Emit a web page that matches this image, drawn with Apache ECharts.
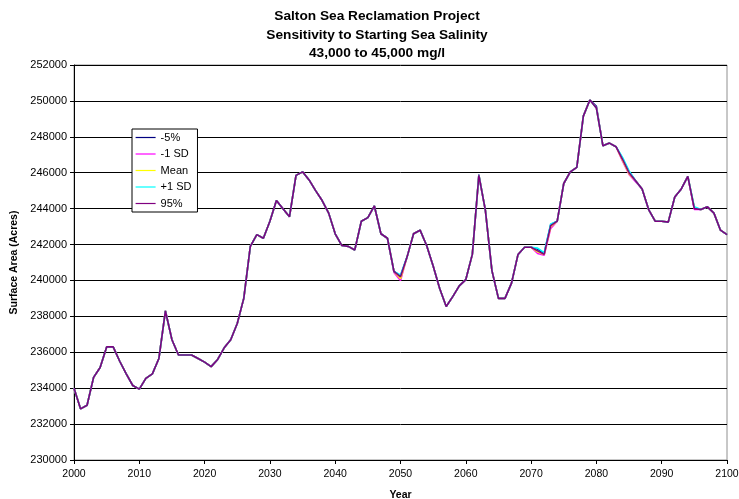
<!DOCTYPE html>
<html>
<head>
<meta charset="utf-8">
<title>Salton Sea Reclamation Project</title>
<script src="https://cdn.jsdelivr.net/npm/echarts@6/dist/echarts.min.js"></script>
<style>
    html, body { margin: 0; padding: 0; background: #fff; }
    #SalinityChart { width: 739px; height: 499px; }
</style>
</head>
<body>
<div id="SalinityChart"></div>
<script>
// years 2000 - 2100, one point per year
var years = [
    2000, 2001, 2002, 2003, 2004, 2005, 2006, 2007, 2008, 2009,
    2010, 2011, 2012, 2013, 2014, 2015, 2016, 2017, 2018, 2019,
    2020, 2021, 2022, 2023, 2024, 2025, 2026, 2027, 2028, 2029,
    2030, 2031, 2032, 2033, 2034, 2035, 2036, 2037, 2038, 2039,
    2040, 2041, 2042, 2043, 2044, 2045, 2046, 2047, 2048, 2049,
    2050, 2051, 2052, 2053, 2054, 2055, 2056, 2057, 2058, 2059,
    2060, 2061, 2062, 2063, 2064, 2065, 2066, 2067, 2068, 2069,
    2070, 2071, 2072, 2073, 2074, 2075, 2076, 2077, 2078, 2079,
    2080, 2081, 2082, 2083, 2084, 2085, 2086, 2087, 2088, 2089,
    2090, 2091, 2092, 2093, 2094, 2095, 2096, 2097, 2098, 2099,
    2100
];

var seriesNames = ['-5%', '-1 SD', 'Mean', '+1 SD', '95%'];
var seriesColors = ['#000080', '#ff00ff', '#ffff00', '#00ffff', '#800080'];

// -5%
var minus5 = [
    234000, 232850, 233050, 234600, 235150, 236300, 236300, 235500, 234800, 234150,
    233950, 234550, 234800, 235650, 238300, 236700, 235850, 235850, 235850, 235650,
    235450, 235200, 235600, 236250, 236700, 237600, 239000, 241900, 242550, 242350,
    243300, 244450, 244000, 243550, 245850, 246050, 245600, 245000, 244450, 243750,
    242600, 241950, 241900, 241700, 243300, 243500, 244150, 242600, 242350, 240500,
    240250, 241300, 242600, 242800, 241950, 240800, 239550, 238550, 239100, 239700,
    240050, 241450, 245900, 243900, 240550, 239000, 239000, 239850, 241450, 241850,
    241850, 241750, 241500, 243100, 243300, 245400, 246050, 246300, 249150, 250050,
    249700, 247500, 247650, 247450, 246800, 246050, 245550, 245100, 243950, 243300,
    243300, 243250, 244650, 245100, 245800, 244000, 243950, 244100, 243750, 242800,
    242550
];

// -1 SD
var minus1sd = [
    234000, 232850, 233050, 234600, 235150, 236300, 236300, 235500, 234800, 234150,
    233950, 234550, 234800, 235650, 238300, 236700, 235850, 235850, 235850, 235650,
    235450, 235200, 235600, 236250, 236700, 237600, 239000, 241900, 242550, 242350,
    243300, 244450, 244000, 243550, 245850, 246050, 245600, 245000, 244450, 243750,
    242600, 241950, 241900, 241700, 243300, 243500, 244150, 242600, 242350, 240450,
    240000, 241300, 242600, 242800, 241950, 240800, 239550, 238550, 239100, 239700,
    240050, 241450, 245800, 243900, 240550, 239000, 239000, 239850, 241450, 241850,
    241850, 241500, 241400, 242900, 243300, 245400, 246050, 246300, 249150, 250050,
    249600, 247500, 247650, 247450, 246650, 245900, 245500, 245100, 243950, 243300,
    243300, 243250, 244650, 245100, 245800, 243950, 243950, 244100, 243750, 242800,
    242550
];

// Mean
var meanVals = [
    234000, 232850, 233050, 234600, 235150, 236300, 236300, 235500, 234800, 234150,
    233950, 234550, 234800, 235650, 238300, 236700, 235850, 235850, 235850, 235650,
    235450, 235200, 235600, 236250, 236700, 237600, 239000, 241900, 242550, 242350,
    243300, 244450, 244000, 243550, 245850, 246050, 245600, 245000, 244450, 243750,
    242600, 241950, 241900, 241700, 243300, 243500, 244150, 242600, 242350, 240500,
    240100, 241300, 242600, 242800, 241950, 240800, 239550, 238550, 239100, 239700,
    240050, 241450, 245850, 243900, 240550, 239000, 239000, 239850, 241450, 241850,
    241850, 241600, 241450, 243000, 243300, 245400, 246050, 246300, 249150, 250050,
    249600, 247500, 247650, 247450, 246700, 245950, 245550, 245100, 243950, 243300,
    243300, 243250, 244650, 245100, 245800, 244050, 243950, 244100, 243750, 242800,
    242550
];

// +1 SD
var plus1sd = [
    234000, 232850, 233050, 234600, 235150, 236300, 236300, 235500, 234800, 234150,
    233950, 234550, 234800, 235650, 238300, 236700, 235850, 235850, 235850, 235650,
    235450, 235200, 235600, 236250, 236700, 237600, 239000, 241900, 242550, 242350,
    243300, 244450, 244000, 243550, 245850, 246050, 245600, 245000, 244450, 243750,
    242600, 241950, 241900, 241700, 243300, 243500, 244150, 242600, 242350, 240500,
    240300, 241300, 242600, 242800, 241950, 240800, 239550, 238550, 239100, 239700,
    240050, 241450, 245850, 243900, 240550, 239000, 239000, 239850, 241450, 241850,
    241850, 241800, 241550, 243150, 243300, 245400, 246050, 246300, 249150, 250050,
    249600, 247500, 247650, 247450, 246850, 246100, 245550, 245100, 243950, 243300,
    243300, 243250, 244650, 245100, 245800, 244100, 243950, 244100, 243750, 242800,
    242550
];

// 95%
var pct95 = [
    234000, 232850, 233050, 234600, 235150, 236300, 236300, 235500, 234800, 234150,
    233950, 234550, 234800, 235650, 238300, 236700, 235850, 235850, 235850, 235650,
    235450, 235200, 235600, 236250, 236700, 237600, 239000, 241900, 242550, 242350,
    243300, 244450, 244000, 243550, 245850, 246050, 245600, 245000, 244450, 243750,
    242600, 241950, 241900, 241700, 243300, 243500, 244150, 242600, 242350, 240500,
    240200, 241300, 242600, 242800, 241950, 240800, 239550, 238550, 239100, 239700,
    240050, 241450, 245850, 243900, 240550, 239000, 239000, 239850, 241450, 241850,
    241850, 241650, 241450, 243050, 243300, 245400, 246050, 246300, 249150, 250050,
    249600, 247500, 247650, 247450, 246750, 246000, 245550, 245100, 243950, 243300,
    243300, 243250, 244650, 245100, 245800, 244000, 243950, 244100, 243750, 242800,
    242550
];

var allValues = [minus5, minus1sd, meanVals, plus1sd, pct95];
var FONT = 'Arial, "Liberation Sans", sans-serif';

function toPairs(vals) {
    var out = [];
    for (var i = 0; i < years.length; i++) {
        out.push([years[i], vals[i]]);
    }
    return out;
}

var chart = echarts.init(document.getElementById('SalinityChart'));

var series = [];
for (var s = 0; s < seriesNames.length; s++) {
    series.push({
        name: seriesNames[s],
        type: 'line',
        symbol: 'none',
        smooth: false,
        animation: false,
        lineStyle: { color: seriesColors[s], width: 1.6 },
        itemStyle: { color: seriesColors[s] },
        data: toPairs(allValues[s])
    });
}

chart.setOption({
    animation: false,
    backgroundColor: '#fff',
    title: {
        text: 'Salton Sea Reclamation Project\nSensitivity to Starting Sea Salinity\n43,000 to 45,000 mg/l',
        left: 372,
        top: 2,
        textAlign: 'center',
        textStyle: {
            fontFamily: FONT,
            fontSize: 13.7,
            fontWeight: 'bold',
            color: '#000',
            lineHeight: 18.5
        }
    },
    legend: {
        data: seriesNames,
        orient: 'vertical',
        left: 132,
        top: 129,
        padding: [3, 6, 3, 3],
        itemGap: 5.5,
        itemWidth: 20,
        itemHeight: 11,
        backgroundColor: '#fff',
        borderColor: '#000',
        borderWidth: 1,
        borderRadius: 0,
        itemStyle: { opacity: 0 },
        lineStyle: { width: 1.2 },
        textStyle: { fontFamily: FONT, fontSize: 11, color: '#000' }
    },
    grid: {
        left: 74,
        right: 12,
        top: 65,
        bottom: 39,
        show: true,
        borderColor: '#909090',
        borderWidth: 1,
        containLabel: false,
        outerBoundsMode: 'none'
    },
    xAxis: {
        type: 'value',
        min: 2000,
        max: 2100,
        interval: 10,
        name: 'Year',
        nameLocation: 'middle',
        nameGap: 30,
        nameTextStyle: { fontFamily: FONT, fontSize: 10.5, fontWeight: 'bold', color: '#000' },
        axisLine: { lineStyle: { color: '#000', width: 1 } },
        axisTick: { show: true, length: 4, lineStyle: { color: '#000' } },
        axisLabel: {
            fontFamily: FONT, fontSize: 10.5, color: '#000', margin: 9,
            formatter: function (v) { return String(v); }
        },
        splitLine: { show: false }
    },
    yAxis: {
        type: 'value',
        min: 230000,
        max: 252000,
        interval: 2000,
        name: 'Surface Area (Acres)',
        nameLocation: 'middle',
        nameGap: 54,
        nameTextStyle: { fontFamily: FONT, fontSize: 10.5, fontWeight: 'bold', color: '#000' },
        axisLine: { show: true, lineStyle: { color: '#000', width: 1 } },
        axisTick: { show: true, length: 4, lineStyle: { color: '#000' } },
        axisLabel: {
            fontFamily: FONT, fontSize: 11, color: '#000', margin: 7,
            formatter: function (v) { return String(v); }
        },
        splitLine: { show: true, lineStyle: { color: '#000', width: 1 } }
    },
    series: series
});

window.onresize = function () {
    chart.resize();
}
</script>
</body>
</html>
